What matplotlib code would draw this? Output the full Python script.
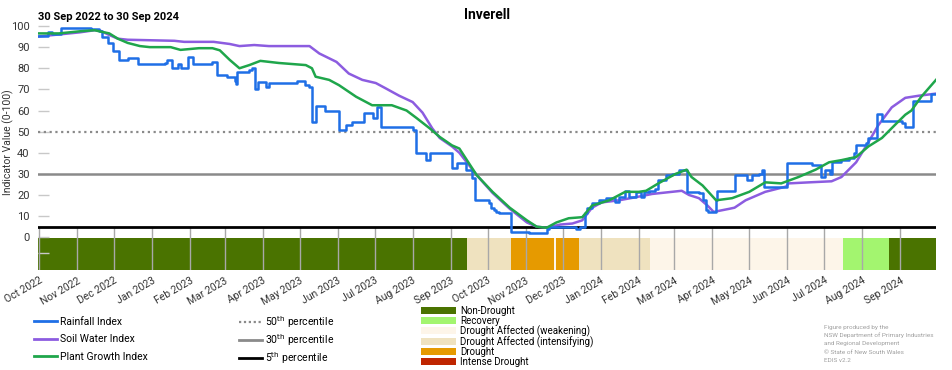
import matplotlib
matplotlib.use("Agg")
import matplotlib.pyplot as plt
import matplotlib.dates as mdates
from matplotlib.lines import Line2D
from matplotlib.patches import Patch
import pandas as pd

plt.rcParams['font.family'] = ['Roboto', 'DejaVu Sans']

# ---------------- data ----------------
rain_dates = ["2022-09-30", "2022-10-08", "2022-10-11", "2022-10-19", "2022-11-12", "2022-11-19",
              "2022-11-21", "2022-11-26", "2022-11-30", "2022-12-05", "2022-12-12", "2022-12-20",
              "2023-01-11", "2023-01-13", "2023-01-17", "2023-01-22", "2023-01-24", "2023-01-30",
              "2023-02-03", "2023-02-19", "2023-02-23", "2023-03-03", "2023-03-09", "2023-03-10",
              "2023-03-11", "2023-03-21", "2023-03-23", "2023-03-26", "2023-03-28", "2023-04-04",
              "2023-04-06", "2023-04-28", "2023-04-29", "2023-05-05", "2023-05-09", "2023-05-11",
              "2023-05-14", "2023-05-22", "2023-06-02", "2023-06-08", "2023-06-13", "2023-06-22",
              "2023-06-30", "2023-07-03", "2023-07-06", "2023-08-01", "2023-08-04", "2023-08-12",
              "2023-08-15", "2023-09-02", "2023-09-06", "2023-09-13", "2023-09-18", "2023-09-21",
              "2023-10-02", "2023-10-04", "2023-10-06", "2023-10-08", "2023-10-10", "2023-10-20",
              "2023-11-04", "2023-11-14", "2023-11-18", "2023-11-20", "2023-12-12", "2023-12-15",
              "2023-12-19", "2023-12-21", "2023-12-25", "2023-12-31", "2024-01-05", "2024-01-13",
              "2024-01-16", "2024-01-21", "2024-01-24", "2024-01-30", "2024-02-03", "2024-02-05",
              "2024-02-09", "2024-02-14", "2024-02-17", "2024-02-23", "2024-02-28", "2024-03-05",
              "2024-03-11", "2024-03-21", "2024-03-24", "2024-03-27", "2024-03-28", "2024-04-04",
              "2024-04-05", "2024-04-19", "2024-04-29", "2024-05-03", "2024-05-09", "2024-05-11",
              "2024-05-13", "2024-06-01", "2024-06-21", "2024-06-28", "2024-07-02", "2024-07-06",
              "2024-07-07", "2024-07-15", "2024-07-21", "2024-07-25", "2024-07-27", "2024-08-04",
              "2024-08-06", "2024-08-13", "2024-08-17", "2024-09-02", "2024-09-05", "2024-09-11",
              "2024-09-26", "2024-09-30"]
rain_vals = [95.5, 97, 96, 99, 98.5, 97.5,
             95, 92, 88, 84, 85, 82,
             82.5, 84, 80, 82, 80, 85.5,
             82, 83, 77, 76, 74, 72.5,
             78, 79, 80, 70, 73.5, 71,
             73, 73, 74, 72, 71, 54.5,
             62, 60, 51, 53, 54.5, 59,
             56.5, 61.5, 52, 51, 40, 36.5,
             40, 33, 35, 32, 28, 17.5,
             16, 14, 13, 12, 11.5, 2.5,
             2, 2, 4, 5, 4, 5,
             11.5, 14, 16, 17.5, 18.5, 16.5,
             19, 22, 19, 21.5, 19, 21.5,
             22, 23, 27, 29.5, 30, 32,
             21.5, 21, 17.5, 13, 12, 17.5,
             22, 29.5, 27, 29.5, 30, 32,
             24, 35, 34, 28.5, 32, 30,
             35.5, 36.5, 37.5, 40, 43.5, 44.5,
             47, 58.5, 55, 54, 52, 64.5,
             68, 68]

soil_dates = ["2022-09-30", "2022-10-17", "2022-11-03", "2022-11-15", "2022-11-19", "2022-11-26",
              "2022-12-04", "2022-12-12", "2023-01-19", "2023-01-27", "2023-02-20", "2023-03-05",
              "2023-03-13", "2023-03-25", "2023-04-06", "2023-05-09", "2023-05-17", "2023-05-31",
              "2023-06-10", "2023-06-21", "2023-07-02", "2023-07-10", "2023-07-21", "2023-08-01",
              "2023-08-09", "2023-08-17", "2023-08-23", "2023-09-02", "2023-09-08", "2023-09-22",
              "2023-10-05", "2023-10-19", "2023-11-02", "2023-11-10", "2023-11-18", "2023-11-29",
              "2023-12-09", "2023-12-17", "2023-12-25", "2024-01-02", "2024-01-16", "2024-01-30",
              "2024-02-12", "2024-02-28", "2024-03-07", "2024-03-13", "2024-03-21", "2024-03-28",
              "2024-04-02", "2024-04-15", "2024-04-19", "2024-04-28", "2024-05-14", "2024-05-31",
              "2024-06-02", "2024-06-19", "2024-07-07", "2024-07-15", "2024-07-27", "2024-08-06",
              "2024-08-14", "2024-08-25", "2024-09-05", "2024-09-16", "2024-09-30"]
soil_vals = [95, 96, 97, 98, 98, 96,
             94, 93.5, 93, 92.5, 92.5, 91.5,
             90.5, 91, 90.5, 90.5, 87, 83,
             77.5, 74.5, 73, 70.5, 67, 64,
             59, 51.5, 47, 43, 40, 29.5,
             21, 13.5, 7, 5, 4.5, 6,
             6.5, 8, 14, 16.5, 17.5, 19,
             20.5, 21.5, 22, 20, 18.5, 15,
             12, 13.5, 14, 17.5, 21.5, 24,
             25.5, 26, 26.5, 28.5, 35.5, 45,
             53, 61.5, 66, 67, 68]

plant_dates = ["2022-09-30", "2022-10-17", "2022-11-03", "2022-11-15", "2022-11-19", "2022-11-27",
               "2022-12-04", "2022-12-12", "2022-12-22", "2022-12-30", "2023-01-16", "2023-01-24",
               "2023-02-08", "2023-02-19", "2023-02-25", "2023-03-05", "2023-03-13", "2023-03-21",
               "2023-03-30", "2023-04-14", "2023-05-06", "2023-05-11", "2023-05-14", "2023-05-25",
               "2023-06-02", "2023-06-16", "2023-06-29", "2023-07-15", "2023-07-27", "2023-08-04",
               "2023-08-15", "2023-08-23", "2023-09-02", "2023-09-08", "2023-09-22", "2023-10-05",
               "2023-10-19", "2023-11-02", "2023-11-10", "2023-11-18", "2023-11-26", "2023-12-06",
               "2023-12-17", "2023-12-25", "2024-01-08", "2024-01-21", "2024-02-01", "2024-02-07",
               "2024-02-17", "2024-03-02", "2024-03-11", "2024-03-15", "2024-03-24", "2024-04-04",
               "2024-04-17", "2024-05-01", "2024-05-14", "2024-05-27", "2024-06-10", "2024-06-24",
               "2024-07-05", "2024-07-15", "2024-07-27", "2024-08-06", "2024-08-17", "2024-08-29",
               "2024-09-05", "2024-09-10", "2024-09-18", "2024-09-30"]
plant_vals = [96.5, 96.5, 97.5, 98, 97.5, 96.5,
              94, 92, 90.5, 90, 90, 88.7,
              89.5, 89.5, 88.5, 84, 80, 81.5,
              83.5, 82.5, 81.5, 80, 76, 74.5,
              72, 66.5, 62.5, 62.5, 60, 56.5,
              51.5, 47.5, 43.5, 42, 29.5, 21.5,
              14, 8, 5, 4.5, 7, 9,
              9.5, 15, 17.5, 21.5, 21.5, 22,
              25.5, 30, 32, 28.5, 24.5, 17.5,
              18.5, 21.5, 26, 25.5, 28.5, 32,
              35.5, 36.5, 38, 43, 47, 54,
              58, 60, 66.5, 74.5]

# drought category periods (start, end, category)
cat_starts = ["2022-09-30", "2023-09-14", "2023-10-20", "2023-11-24", "2023-11-26",
              "2023-12-14", "2024-02-10", "2024-07-16", "2024-08-23"]
cat_ends = ["2023-09-14", "2023-10-20", "2023-11-24", "2023-11-26", "2023-12-14",
            "2024-02-10", "2024-07-16", "2024-08-23", "2024-09-30"]
cat_names = ["Non-Drought", "Drought Affected (intensifying)", "Drought",
             "Drought Affected (weakening)", "Drought", "Drought Affected (intensifying)",
             "Drought Affected (weakening)", "Recovery", "Non-Drought"]

category_order = ["Non-Drought", "Recovery", "Drought Affected (weakening)",
                  "Drought Affected (intensifying)", "Drought", "Intense Drought"]
category_colors = ["#4a7300", "#a3f56f", "#fdf5e9", "#efe2bf", "#e69a00", "#bf2500"]

percentiles = [50, 30, 5]
percentile_labels = ["50$^{\\rm th}$ percentile", "30$^{\\rm th}$ percentile", "5$^{\\rm th}$ percentile"]

y_ticks = [0, 10, 20, 30, 40, 50, 60, 70, 80, 90, 100]

# ---------------- plot ----------------
fig = plt.figure(figsize=(9.52, 3.70), dpi=100)
ax = fig.add_axes([38 / 952, (370 - 270) / 370, (936 - 38) / 952, (270 - 23.9) / 370])

start = pd.Timestamp("2022-09-30")
end = pd.Timestamp("2024-09-30")

cmap = dict(zip(category_order, category_colors))
for s, e, c in zip(cat_starts, cat_ends, cat_names):
    s = pd.Timestamp(s)
    e = pd.Timestamp(e)
    ax.bar(s, 15.2, width=(e - s).days, bottom=-15.5, align='edge',
           color=cmap[c], edgecolor='none', linewidth=0, zorder=1)

months = pd.date_range("2022-10-01", "2024-09-01", freq="MS")
ax.vlines(months, -15.5, 5, color='#a8a8a8', lw=1.0, zorder=2)

ax.axhline(percentiles[0], color='#8a8a8a', lw=1.6, ls=(0, (1, 1.6)), zorder=3)
ax.axhline(percentiles[1], color='#8a8a8a', lw=1.8, zorder=3)
ax.axhline(percentiles[2], color='black', lw=2.0, zorder=3)

ax.plot(pd.to_datetime(soil_dates), soil_vals, color='#8c5ce0', lw=1.8, zorder=4)
ax.plot(pd.to_datetime(plant_dates), plant_vals, color='#1fa64b', lw=1.8, zorder=5)
ax.plot(pd.to_datetime(rain_dates), rain_vals, color='#1f6fe6', lw=1.8,
        drawstyle='steps-post', zorder=4.5)

ax.set_xlim(start, end)
ax.set_ylim(-15.5, 101)
ax.set_yticks(y_ticks + [-7.5])
ax.set_yticklabels([str(v) for v in y_ticks] + [""])
ax.tick_params(axis='y', direction='in', length=8, width=1, color='#c8c8c8',
               labelsize=8, labelcolor='#333333', pad=6)
ax.set_xticks(months)
ax.set_xticklabels([m.strftime("%b %Y") for m in months], rotation=30,
                   ha='right', rotation_mode='anchor', fontsize=7.5, color='#333333')
ax.tick_params(axis='x', length=0, pad=4)
for sp in ax.spines.values():
    sp.set_visible(False)
ax.set_ylabel("Indicator Value (0-100)", fontsize=7.5, color='#333333')
ax.yaxis.set_label_coords((14 - 38) / 898, (270 - 142) / 246)

fig.text(487 / 952, (370 - 15) / 370, "Inverell", ha='center', va='center',
         fontsize=10, fontweight='bold')
fig.text(38 / 952, (370 - 17) / 370, "30 Sep 2022 to 30 Sep 2024", ha='left', va='center',
         fontsize=8, fontweight='bold')

# legends
h1 = [Line2D([], [], color='#1f6fe6', lw=2),
      Line2D([], [], color='#8c5ce0', lw=2),
      Line2D([], [], color='#1fa64b', lw=2)]
l1 = ["Rainfall Index", "Soil Water Index", "Plant Growth Index"]
leg1 = fig.legend(h1, l1, loc='upper left', bbox_to_anchor=(34 / 952, (370 - 317) / 370),
                  frameon=False, fontsize=7.5, handlelength=2.2, handletextpad=0.25,
                  labelspacing=0.72, borderpad=0, borderaxespad=0)

h2 = [Line2D([], [], color='#8a8a8a', lw=1.6, ls=(0, (1, 1.2))),
      Line2D([], [], color='#8a8a8a', lw=2),
      Line2D([], [], color='black', lw=2)]
leg2 = fig.legend(h2, percentile_labels, loc='upper left',
                  bbox_to_anchor=(239 / 952, (370 - 314) / 370),
                  frameon=False, fontsize=7.5, handlelength=2.2, handletextpad=0.25,
                  labelspacing=0.2, borderpad=0, borderaxespad=0)

h3 = [Patch(facecolor=c, edgecolor='none') for c in category_colors]
leg3 = fig.legend(h3, category_order, loc='upper left',
                  bbox_to_anchor=(421 / 952, (370 - 306) / 370),
                  frameon=False, fontsize=7, handlelength=3.6, handleheight=0.75,
                  handletextpad=0.4, labelspacing=-0.05, borderpad=0, borderaxespad=0)

credits = ["Figure produced by the", "NSW Department of Primary Industries",
           "and Regional Development", "\u00a9 State of New South Wales", "EDIS v2.2"]
for i, t in enumerate(credits):
    fig.text(824 / 952, (370 - 327 - i * 8.5) / 370, t, ha='left', va='center',
             fontsize=4.6, color='#a0a0a0')

fig.savefig("out.png", dpi=100)
